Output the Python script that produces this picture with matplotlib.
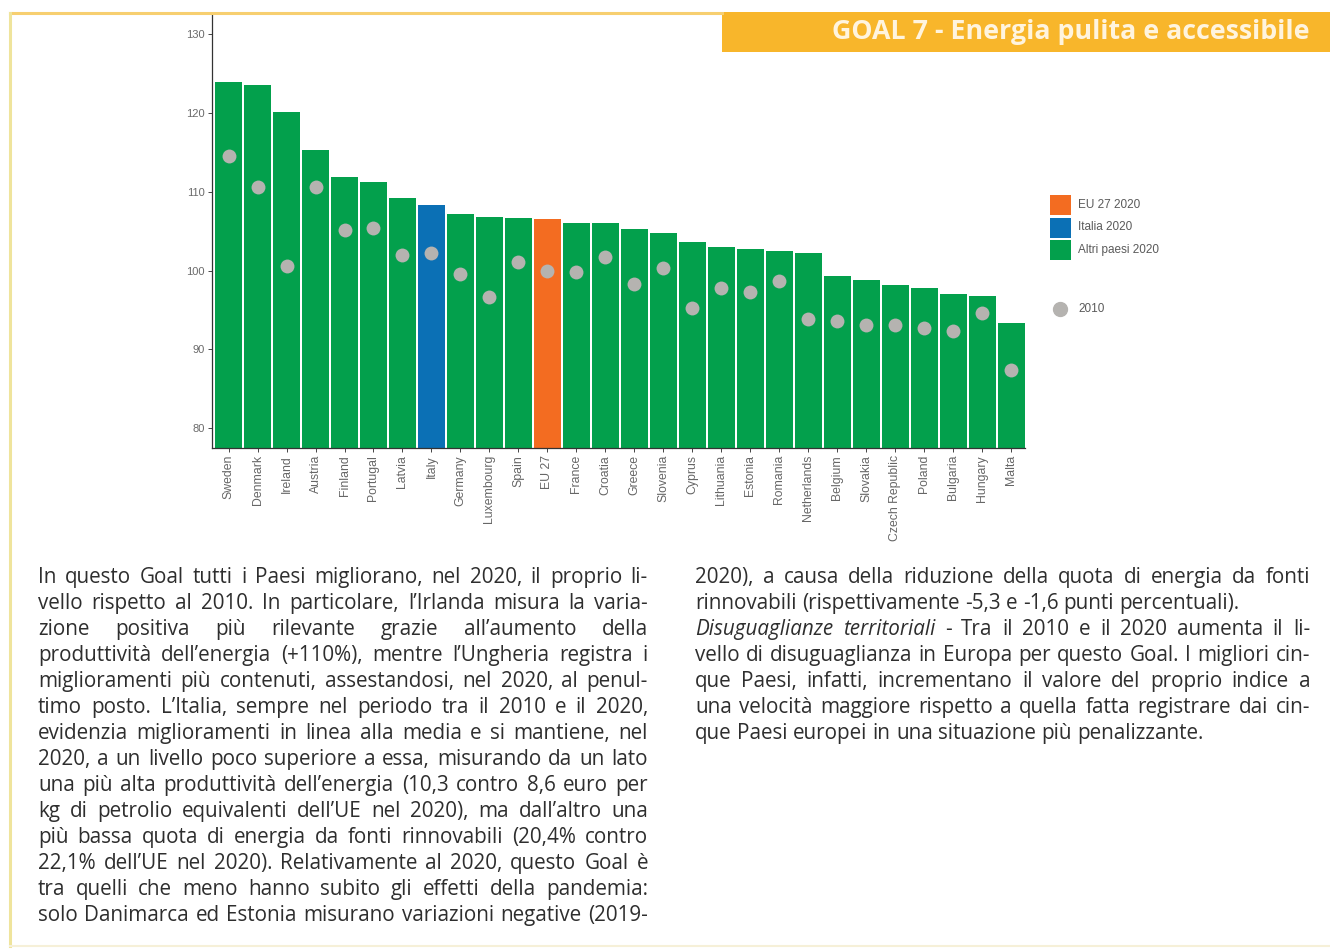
import matplotlib
matplotlib.use("Agg")
import matplotlib.pyplot as plt
from matplotlib.patches import Rectangle
from matplotlib.lines import Line2D

# ---------------- data ----------------
countries = ["Sweden", "Denmark", "Ireland", "Austria", "Finland", "Portugal", "Latvia",
             "Italy", "Germany", "Luxembourg", "Spain", "EU 27", "France", "Croatia",
             "Greece", "Slovenia", "Cyprus", "Lithuania", "Estonia", "Romania",
             "Netherlands", "Belgium", "Slovakia", "Czech Republic", "Poland",
             "Bulgaria", "Hungary", "Malta"]
values_2020 = [123.9, 123.6, 120.1, 115.3, 111.9, 111.3, 109.2, 108.3, 107.2, 106.8,
               106.7, 106.6, 106.1, 106.0, 105.3, 104.8, 103.6, 103.0, 102.8, 102.5,
               102.2, 99.3, 98.8, 98.2, 97.8, 97.0, 96.8, 93.4]
values_2010 = [114.5, 110.6, 100.6, 110.6, 105.2, 105.4, 102.0, 102.2, 99.6, 96.7,
               101.1, 100.0, 99.8, 101.8, 98.3, 100.3, 95.3, 97.8, 97.3, 98.7,
               93.9, 93.6, 93.1, 93.1, 92.7, 92.4, 94.6, 87.4]
yticks = [80, 90, 100, 110, 120, 130]
legend_labels = ["EU 27 2020", "Italia 2020", "Altri paesi 2020"]
dot_label = "2010"
header_title = "GOAL 7 - Energia pulita e accessibile"

left_lines = [
    "In questo Goal tutti i Paesi migliorano, nel 2020, il proprio li-",
    "vello rispetto al 2010. In particolare, l\u2019Irlanda misura la varia-",
    "zione positiva più rilevante grazie all\u2019aumento della",
    "produttività dell\u2019energia (+110%), mentre l\u2019Ungheria registra i",
    "miglioramenti più contenuti, assestandosi, nel 2020, al penul-",
    "timo posto. L\u2019Italia, sempre nel periodo tra il 2010 e il 2020,",
    "evidenzia miglioramenti in linea alla media e si mantiene, nel",
    "2020, a un livello poco superiore a essa, misurando da un lato",
    "una più alta produttività dell\u2019energia (10,3 contro 8,6 euro per",
    "kg di petrolio equivalenti dell\u2019UE nel 2020), ma dall\u2019altro una",
    "più bassa quota di energia da fonti rinnovabili (20,4% contro",
    "22,1% dell\u2019UE nel 2020). Relativamente al 2020, questo Goal è",
    "tra quelli che meno hanno subito gli effetti della pandemia:",
    "solo Danimarca ed Estonia misurano variazioni negative (2019-",
]
right_lines = [
    "2020), a causa della riduzione della quota di energia da fonti",
    "rinnovabili (rispettivamente -5,3 e -1,6 punti percentuali).",
    "*Disuguaglianze *territoriali - Tra il 2010 e il 2020 aumenta il li-",
    "vello di disuguaglianza in Europa per questo Goal. I migliori cin-",
    "que Paesi, infatti, incrementano il valore del proprio indice a",
    "una velocità maggiore rispetto a quella fatta registrare dai cin-",
    "que Paesi europei in una situazione più penalizzante.",
]
right_justify = [True, False, True, True, True, True, False]

# ---------------- style ----------------
W, H = 1330, 950
C_GREEN = "#03A04C"
C_BLUE = "#0B70B5"
C_ORANGE = "#F36C21"
C_DOT = "#B5B3B0"
C_HEADER = "#F8B62B"
TXT = "#2E2E2E"
BODY_FONT = "Open Sans"

def fx(px):
    return px / W

def fy(py):
    return 1 - py / H

fig = plt.figure(figsize=(W / 100, H / 100), dpi=100)
fig.patch.set_facecolor("white")
renderer = fig.canvas.get_renderer()

def measure(t):
    return t.get_window_extent(renderer=renderer).width

# calibrate body font size on the two unjustified lines (reference widths ~567 and ~488 px)
p1 = fig.text(0, 0, right_lines[1], fontsize=10, family=BODY_FONT)
p2 = fig.text(0, 0, right_lines[-1], fontsize=10, family=BODY_FONT)
BODY_SIZE = 10 * (567.0 + 488.0) / (measure(p1) + measure(p2))
p1.remove()
p2.remove()

# frame lines
fig.add_artist(Line2D([fx(10), fx(722)], [fy(13), fy(13)], color="#F7CF70", lw=2.2,
                      transform=fig.transFigure))
fig.add_artist(Line2D([fx(10), fx(10)], [fy(13), fy(946)], color="#EFE49C", lw=2.2,
                      transform=fig.transFigure))
fig.add_artist(Line2D([fx(10), fx(1330)], [fy(946), fy(946)], color="#F6F0D8", lw=1.5,
                      transform=fig.transFigure))

# header
fig.add_artist(Rectangle((fx(722), fy(52)), fx(1330 - 722), 40 / H, transform=fig.transFigure,
                         facecolor=C_HEADER, edgecolor="none"))
fig.text(fx(1310), fy(32), header_title, ha="right", va="center", color="#FFF4DE",
         fontsize=19.3, fontweight="bold", family=BODY_FONT)

# ---------------- chart ----------------
ax = fig.add_axes([fx(212), fy(448), fx(1025 - 212), (448 - 13) / H])
x = list(range(len(countries)))
colors = [C_ORANGE if c == "EU 27" else C_BLUE if c == "Italy" else C_GREEN for c in countries]
ax.bar(x, values_2020, width=0.91, color=colors, zorder=2)
ax.scatter(x, values_2010, s=100, color=C_DOT, zorder=3, linewidths=0)
ax.set_xlim(-0.57, len(countries) - 0.53)
ax.set_ylim(77.5, 132.7)
ax.set_yticks(yticks)
ax.set_yticklabels([str(t) for t in yticks], fontsize=8, color="#6A6A6A", family="Liberation Sans")
ax.set_xticks(x)
ax.set_xticklabels(countries, rotation=90, fontsize=8.8, color="#666666", family="Liberation Sans")
ax.tick_params(axis="both", length=3, width=0.7, color="#444444", pad=2)
for s in ["top", "right"]:
    ax.spines[s].set_visible(False)
for s in ["left", "bottom"]:
    ax.spines[s].set_color("#333333")
    ax.spines[s].set_linewidth(0.9)
ax.set_facecolor("white")

# legend
for i, (lab, col) in enumerate(zip(legend_labels, [C_ORANGE, C_BLUE, C_GREEN])):
    top = 195 + i * 22.5
    fig.add_artist(Rectangle((fx(1050), fy(top + 20)), fx(21), 20 / H, transform=fig.transFigure,
                             facecolor=col, edgecolor="none"))
    fig.text(fx(1078), fy(top + 10), lab, ha="left", va="center", fontsize=8.5,
             color="#5A5A5A", family="Liberation Sans")
fig.add_artist(Line2D([fx(1060)], [fy(309)], marker="o", markersize=10, color=C_DOT, lw=0,
                      transform=fig.transFigure))
fig.text(fx(1078), fy(309), dot_label, ha="left", va="center", fontsize=8.5, color="#5A5A5A",
         family="Liberation Sans")

# ---------------- body text ----------------
tmp = fig.text(0, 0, "x x", fontsize=BODY_SIZE, family=BODY_FONT)
tmp2 = fig.text(0, 0, "xx", fontsize=BODY_SIZE, family=BODY_FONT)
SPACE = measure(tmp) - measure(tmp2)
tmp.remove()
tmp2.remove()
BASE_OFF = 6.0  # baseline sits below the visual line centre

def place_line(line, x0, x1, y, justify):
    texts = []
    for w in line.split(" "):
        it = w.startswith("*")
        if it:
            w = w[1:]
        t = fig.text(0, fy(y + BASE_OFF), w, ha="left", va="baseline", fontsize=BODY_SIZE,
                     family=BODY_FONT, style="italic" if it else "normal", color=TXT)
        texts.append(t)
    widths = [measure(t) for t in texts]
    if justify and len(texts) > 1:
        gap = (x1 - x0 - sum(widths)) / (len(texts) - 1)
    else:
        gap = SPACE
    xp = x0
    for t, w in zip(texts, widths):
        t.set_x(fx(xp))
        xp += w + gap

LINE_H = 26.0
for i, line in enumerate(left_lines):
    place_line(line, 38, 648, 577 + i * LINE_H, True)
for i, line in enumerate(right_lines):
    place_line(line, 695, 1310, 577 + i * LINE_H, right_justify[i])

fig.savefig("out.png", dpi=100, facecolor="white")
